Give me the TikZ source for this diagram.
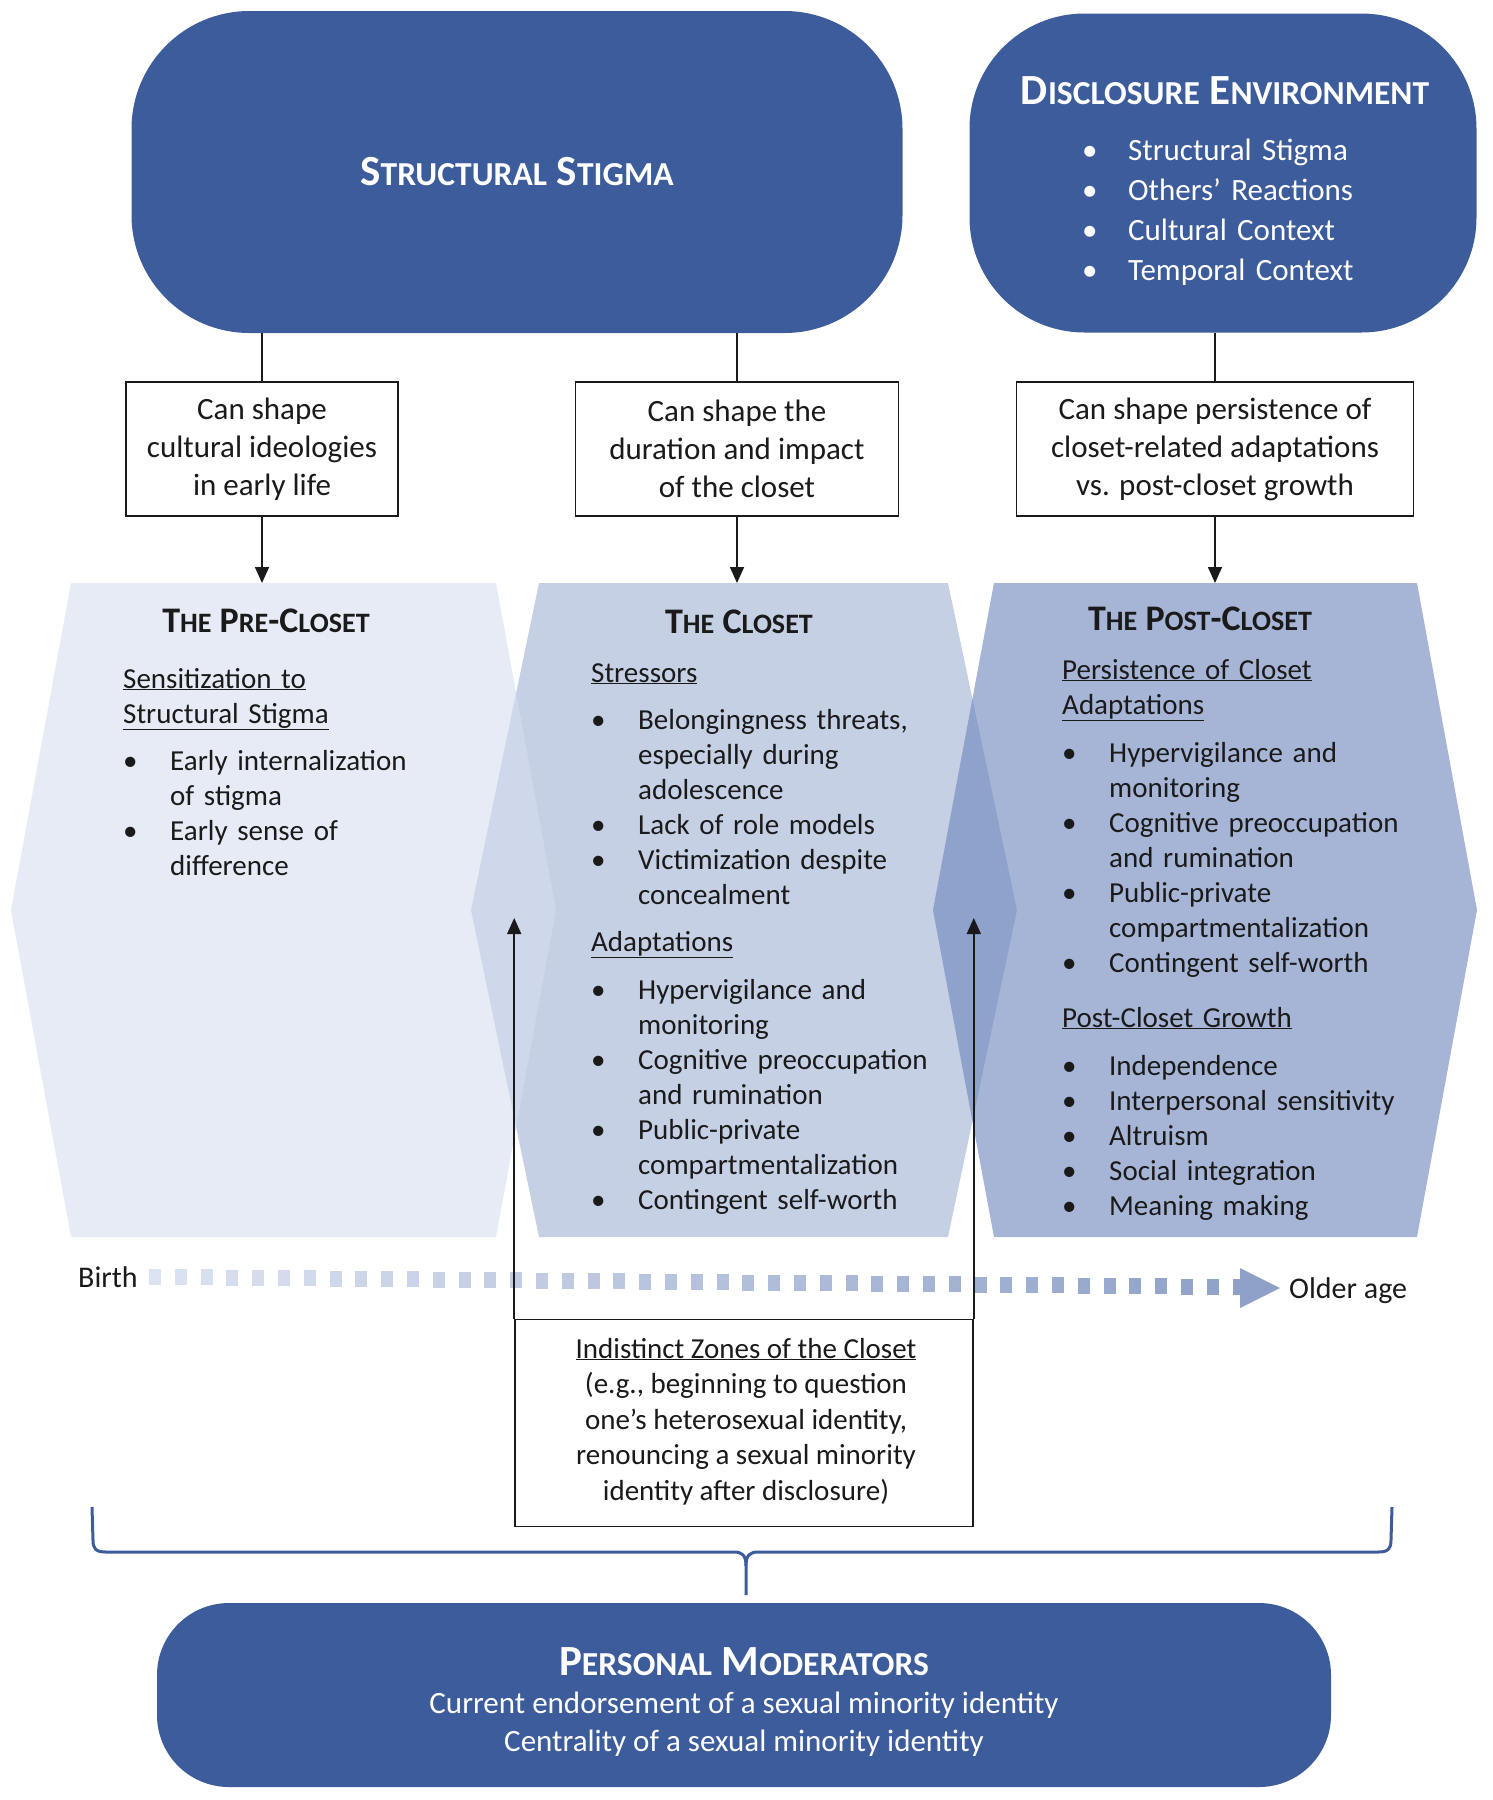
\documentclass[tikz,border=0pt]{standalone}
\usepackage{fontspec}
\setmainfont{Carlito}
\usetikzlibrary{arrows.meta,positioning}

\definecolor{navy}{RGB}{61,92,155}
\definecolor{closetblue}{RGB}{197,208,229}
\definecolor{preblue}{RGB}{213,222,238}
\definecolor{postblue}{RGB}{107,132,187}
\definecolor{dashlight}{RGB}{220,227,241}
\definecolor{dashdark}{RGB}{143,161,200}
\definecolor{ink}{RGB}{26,26,26}

\makeatletter
\newcommand{\lowsc}[1]{{\fontsize{\strip@pt\dimexpr\f@size pt*78/100\relax}{\f@baselineskip}\selectfont #1}}
\makeatother
\newcommand{\bitem}[1][47pt]{\par\hangindent=#1\hangafter=1\noindent\makebox[#1][l]{\textbullet}}

\tikzset{
  bluebox/.style={fill=navy, text=white, inner sep=0pt},
  textbox/.style={draw=ink, line width=1.6pt, fill=white, align=center, text=ink,
    font=\fontsize{31}{38}\selectfont},
  hextitle/.style={anchor=base, text=ink, font=\bfseries\fontsize{36}{40}\selectfont},
  hexlist/.style={anchor=base west, inner sep=0pt, text width=400pt, text=ink,
    font=\fontsize{29}{35}\selectfont},
  arrow/.style={draw=ink, line width=1.6pt, -{Triangle[length=16pt,width=14pt]}},
  link/.style={draw=ink, line width=1.6pt}
}

\begin{document}
\begin{tikzpicture}[x=1pt, y=-1pt]
  \useasboundingbox (0,0) rectangle (1492,1800);

  % Top boxes
  \node[bluebox, minimum width=771pt, minimum height=322pt, rounded corners=118pt,
    font=\bfseries\fontsize{43}{48}\selectfont] (stigma) at (517,172)
    {S\lowsc{TRUCTURAL} S\lowsc{TIGMA}};
  \node[bluebox, minimum width=507pt, minimum height=319pt, rounded corners=115pt]
    (disclosure) at (1223,173) {};
  \node[anchor=base, text=white, font=\bfseries\fontsize{43}{48}\selectfont]
    (distitle) at (1225,104) {D\lowsc{ISCLOSURE} E\lowsc{NVIRONMENT}};
  \node[anchor=base west, inner sep=0pt, text width=340pt, text=white,
    font=\fontsize{31}{40}\selectfont] (dislist) at (1082,120)
    {\bitem[46pt]Structural Stigma
     \bitem[46pt]Others’ Reactions
     \bitem[46pt]Cultural Context
     \bitem[46pt]Temporal Context\par};

  % Middle boxes
  \node[textbox, minimum width=272pt, minimum height=134pt] (cultbox) at (262,449)
    {Can shape\\cultural ideologies\\in early life};
  \node[textbox, minimum width=323pt, minimum height=134pt] (durbox) at (737,449)
    {Can shape the\\duration and impact\\of the closet};
  \node[textbox, minimum width=397pt, minimum height=134pt] (persbox) at (1215,449)
    {Can shape persistence of\\closet-related adaptations\\vs. post-closet growth};

  \coordinate (hextop) at (0,583);
  \coordinate (arrowend) at (0,918);

  \draw[link] (stigma.south -| cultbox.north) -- (cultbox.north);
  \draw[link] (stigma.south -| durbox.north) -- (durbox.north);
  \draw[link] (disclosure.south -| persbox.north) -- (persbox.north);
  \draw[arrow] (cultbox.south) -- (cultbox.south |- hextop);
  \draw[arrow] (durbox.south) -- (durbox.south |- hextop);
  \draw[arrow] (persbox.south) -- (persbox.south |- hextop);

  % Hexagons
  \fill[closetblue] (539,583) -- (948,583) -- (1017,910) -- (948,1237)
    -- (539,1237) -- (471,910) -- cycle;
  \fill[preblue, fill opacity=.6] (71,583) -- (496,583) -- (556,910) -- (496,1237)
    -- (71,1237) -- (11,910) -- cycle;
  \fill[postblue, fill opacity=.6] (994,583) -- (1417,583) -- (1477,910) -- (1417,1237)
    -- (994,1237) -- (933,910) -- cycle;

  \node[hextitle] (pretitle) at (266,632) {T\lowsc{HE} P\lowsc{RE}-C\lowsc{LOSET}};
  \node[hextitle] (closettitle) at (739,633) {T\lowsc{HE} C\lowsc{LOSET}};
  \node[hextitle] (posttitle) at (1200,630) {T\lowsc{HE} P\lowsc{OST}-C\lowsc{LOSET}};

  \node[hexlist] (prelist) at (123,688)
    {\underline{Sensitization to}\newline\underline{Structural Stigma}\par\vspace{12pt}
     \bitem Early internalization\newline of stigma
     \bitem Early sense of\newline difference\par};
  \node[hexlist] (closetlist) at (591,682)
    {\underline{Stressors}\par\vspace{12pt}
     \bitem Belongingness threats,\newline especially during\newline adolescence
     \bitem Lack of role models
     \bitem Victimization despite\newline concealment
     \par\vspace{12pt}\noindent\underline{Adaptations}\par\vspace{13pt}
     \bitem Hypervigilance and\newline monitoring
     \bitem Cognitive preoccupation\newline and rumination
     \bitem Public-private\newline compartmentalization
     \bitem Contingent self-worth\par};
  \node[hexlist] (postlist) at (1062,679)
    {\underline{Persistence of Closet}\newline\underline{Adaptations}\par\vspace{13pt}
     \bitem Hypervigilance and\newline monitoring
     \bitem Cognitive preoccupation\newline and rumination
     \bitem Public-private\newline compartmentalization
     \bitem Contingent self-worth
     \par\vspace{20pt}\noindent\underline{Post-Closet Growth}\par\vspace{13pt}
     \bitem Independence
     \bitem Interpersonal sensitivity
     \bitem Altruism
     \bitem Social integration
     \bitem Meaning making\par};

  % Life course line
  \foreach \i in {0,...,42} {
    \pgfmathsetmacro\pct{100*\i/42}
    \fill[dashdark!\pct!dashlight] (155+\i*25.8-6, 1277+\i*0.24-8) rectangle ++(12,16);
  }
  \fill[dashdark] (1240,1268) -- (1280,1288) -- (1240,1308) -- cycle;
  \node[anchor=base west, inner sep=0pt, text=ink, font=\fontsize{30}{34}\selectfont]
    (birth) at (78,1287) {Birth};
  \node[anchor=base west, inner sep=0pt, text=ink, font=\fontsize{30}{34}\selectfont]
    (older) at (1289,1298) {Older age};

  % Indistinct zones
  \node[draw=ink, line width=1.6pt, fill=white, minimum width=458pt, minimum height=207pt]
    (zonebox) at (744,1423) {};
  \node[anchor=base, align=center, text=ink, font=\fontsize{29}{35.5}\selectfont]
    (zonetext) at (746,1500)
    {\underline{Indistinct Zones of the Closet}\\(e.g., beginning to question\\one’s heterosexual identity,\\renouncing a sexual minority\\identity after disclosure)};
  \draw[arrow] (zonebox.north west) -- (zonebox.north west |- arrowend);
  \draw[arrow] (zonebox.north east) -- (zonebox.north east |- arrowend);

  % Brace
  \draw[navy, line width=3pt, line join=round]
    (92,1507) -- (93,1540) .. controls (93,1549) and (96,1552) .. (106,1552)
    -- (734,1552) .. controls (742,1552) and (746,1555) .. (746,1566) -- (746,1595);
  \draw[navy, line width=3pt, line join=round]
    (1392,1507) -- (1391,1540) .. controls (1391,1549) and (1388,1552) .. (1378,1552)
    -- (758,1552) .. controls (750,1552) and (746,1555) .. (746,1566);

  % Personal moderators
  \node[bluebox, minimum width=1174pt, minimum height=184pt, rounded corners=72pt]
    (modbox) at (744,1695) {};
  \node[anchor=base, text=white, font=\bfseries\fontsize{43}{48}\selectfont]
    (modtitle) at (744,1675) {P\lowsc{ERSONAL} M\lowsc{ODERATORS}};
  \node[anchor=base, align=center, text=white, font=\fontsize{31}{38}\selectfont]
    (modtext) at (744,1751)
    {Current endorsement of a sexual minority identity\\Centrality of a sexual minority identity};
\end{tikzpicture}
\end{document}
